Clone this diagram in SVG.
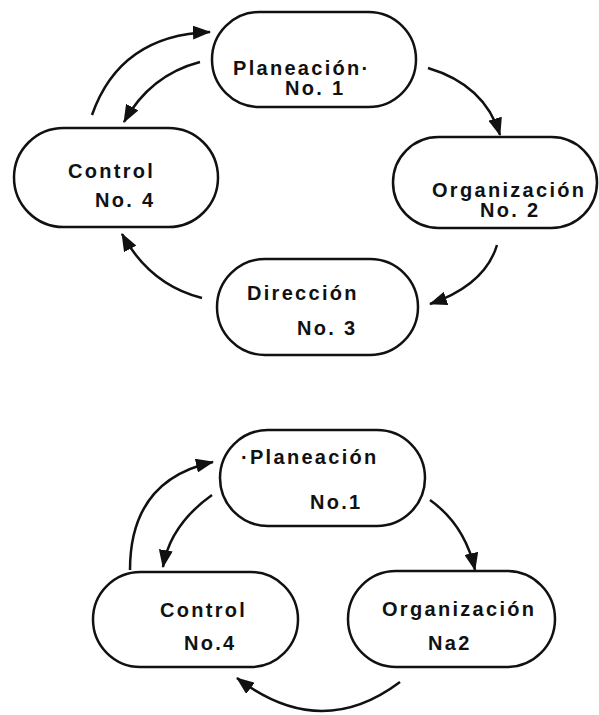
<svg xmlns="http://www.w3.org/2000/svg" width="599" height="715" viewBox="0 0 599 715">
<style>
.node{fill:#fff;stroke:#111;stroke-width:2.5}
.lbl{font-family:"Liberation Sans",Arial,sans-serif;font-weight:bold;font-size:20px;letter-spacing:2.3px;fill:#111}
.conn{fill:none;stroke:#111;stroke-width:2.5}
</style>
<defs>
<marker id="ah" markerUnits="userSpaceOnUse" markerWidth="18" markerHeight="14" viewBox="0 0 18 14" refX="17" refY="7" orient="auto">
<path d="M0,0 L18,7 L0,14 Z" fill="#111"/>
</marker>
</defs>
<rect width="599" height="715" fill="#fff"/>
<g id="connectors">
<path class="conn" marker-end="url(#ah)" d="M92,115 Q120,35 210,32"/>
<path class="conn" marker-end="url(#ah)" d="M200,62 Q150,75 124,122"/>
<path class="conn" marker-end="url(#ah)" d="M428,68 Q485,85 500,135"/>
<path class="conn" marker-end="url(#ah)" d="M497,245 Q485,285 430,304"/>
<path class="conn" marker-end="url(#ah)" d="M202,298 Q150,285 122,234"/>
<path class="conn" marker-end="url(#ah)" d="M130,570 Q130,480 213,462"/>
<path class="conn" marker-end="url(#ah)" d="M212,495 Q170,525 163,567"/>
<path class="conn" marker-end="url(#ah)" d="M430,500 Q465,525 475,570"/>
<path class="conn" marker-end="url(#ah)" d="M400,682 Q320,742 237,678"/>
</g>
<g id="n1-planeacion">
<rect class="node" x="212" y="12" width="204" height="95" rx="47.5"/>
<text class="lbl" x="233" y="75">Planeación·</text>
<text class="lbl" x="285" y="95">No. 1</text>
</g>
<g id="n1-organizacion">
<rect class="node" x="393" y="137" width="204" height="91" rx="45.5"/>
<text class="lbl" x="432" y="197">Organización</text>
<text class="lbl" x="480" y="217">No. 2</text>
</g>
<g id="n1-direccion">
<rect class="node" x="217" y="259" width="201" height="96" rx="48"/>
<text class="lbl" x="247" y="300">Dirección</text>
<text class="lbl" x="297" y="335">No. 3</text>
</g>
<g id="n1-control">
<rect class="node" x="14" y="128" width="204" height="99" rx="49.5"/>
<text class="lbl" x="68" y="178">Control</text>
<text class="lbl" x="95" y="207">No. 4</text>
</g>
<g id="n2-planeacion">
<rect class="node" x="220" y="430" width="205" height="96" rx="48"/>
<text class="lbl" x="241" y="464">·Planeación</text>
<text class="lbl" x="310" y="509">No.1</text>
</g>
<g id="n2-organizacion">
<rect class="node" x="348" y="571" width="207" height="96" rx="48"/>
<text class="lbl" x="382" y="616">Organización</text>
<text class="lbl" x="428" y="650">Na2</text>
</g>
<g id="n2-control">
<rect class="node" x="93" y="572" width="205" height="95" rx="47.5"/>
<text class="lbl" x="160" y="617">Control</text>
<text class="lbl" x="184" y="650">No.4</text>
</g>
</svg>
